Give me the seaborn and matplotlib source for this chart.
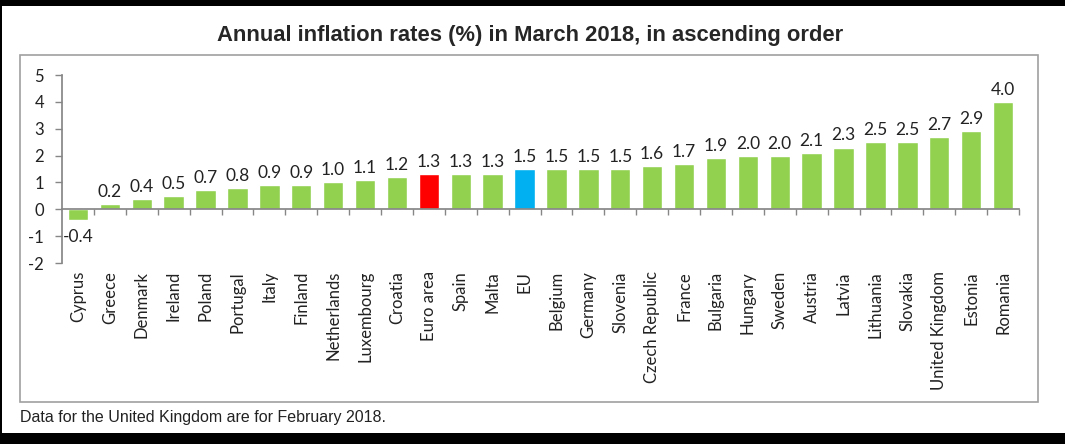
import matplotlib
matplotlib.use("Agg")
import matplotlib.pyplot as plt
import seaborn as sns
import pandas as pd
from matplotlib.patches import Rectangle

countries = ["Cyprus", "Greece", "Denmark", "Ireland", "Poland", "Portugal", "Italy",
             "Finland", "Netherlands", "Luxembourg", "Croatia", "Euro area", "Spain",
             "Malta", "EU", "Belgium", "Germany", "Slovenia", "Czech Republic", "France",
             "Bulgaria", "Hungary", "Sweden", "Austria", "Latvia", "Lithuania", "Slovakia",
             "United Kingdom", "Estonia", "Romania"]
rates = [-0.4, 0.2, 0.4, 0.5, 0.7, 0.8, 0.9, 0.9, 1.0, 1.1, 1.2, 1.3, 1.3, 1.3, 1.5,
         1.5, 1.5, 1.5, 1.6, 1.7, 1.9, 2.0, 2.0, 2.1, 2.3, 2.5, 2.5, 2.7, 2.9, 4.0]
title = "Annual inflation rates (%) in March 2018, in ascending order"
footnote = "Data for the United Kingdom are for February 2018."
yticks = [-2, -1, 0, 1, 2, 3, 4, 5]

GREEN, RED, BLUE = "#92D050", "#FF0000", "#00B0F0"
colors = [RED if c == "Euro area" else BLUE if c == "EU" else GREEN for c in countries]

sns.set_theme(style="white")
plt.rcParams["font.family"] = ["Lato", "DejaVu Sans"]

W, H = 1065, 444
fig = plt.figure(figsize=(W / 100, H / 100), dpi=100)
fig.patch.set_facecolor("white")

# axes placement (pixel coordinates from the reference)
x0, x1 = 62, 1019
ytop, ybot = 75, 263
ax = fig.add_axes([x0 / W, 1 - ybot / H, (x1 - x0) / W, (ybot - ytop) / H])

df = pd.DataFrame({"country": countries, "rate": rates})
sns.barplot(data=df, x="country", y="rate", hue="country", palette=colors,
            legend=False, width=0.64, ax=ax, saturation=1)

ax.set_xlim(-0.5, len(countries) - 0.5)
ax.set_ylim(-2, 5)
ax.set_yticks(yticks)
ax.set_yticklabels([str(v) for v in yticks], fontsize=12)
ax.set_xlabel("")
ax.set_ylabel("")

for s in ["top", "right"]:
    ax.spines[s].set_visible(False)
ax.spines["left"].set_color("#868686")
ax.spines["bottom"].set_color("#868686")
ax.spines["bottom"].set_position(("data", 0))
ax.tick_params(axis="y", left=True, direction="out", length=5, width=1, color="#868686",
               pad=8, labelcolor="#222222")
ax.set_xticks([])
# boundary ticks on the zero line
ax.set_xticks([i + 0.5 for i in range(len(countries))], minor=True)
ax.tick_params(axis="x", which="minor", bottom=True, direction="out", length=4, width=1,
               color="#868686")

# category labels below the plot
for i, c in enumerate(countries):
    ax.text(i, -2.3, c, rotation=90, ha="center", va="top", fontsize=12,
            color="#222222")

# data labels
for i, v in enumerate(rates):
    if v >= 0:
        ax.text(i, v + 0.15, f"{v:.1f}", ha="center", va="bottom", fontsize=12.5, color="#222222")
    else:
        ax.text(i, v - 0.35, f"{v:.1f}", ha="center", va="top", fontsize=12.5, color="#222222")

# outer chart border
fig.patches.append(Rectangle((20 / W, 1 - 402 / H), (1038 - 20) / W, (402 - 55) / H,
                             transform=fig.transFigure, fill=False, edgecolor="#A0A0A0",
                             linewidth=1.2))
# black frame strips
fig.patches.append(Rectangle((0, 1 - 6 / H), 1, 6 / H, transform=fig.transFigure,
                             facecolor="black", edgecolor="none"))
fig.patches.append(Rectangle((0, 0), 1, 11 / H, transform=fig.transFigure,
                             facecolor="black", edgecolor="none"))
fig.patches.append(Rectangle((0, 0), 2 / W, 1, transform=fig.transFigure,
                             facecolor="black", edgecolor="none"))

fig.text(530 / W, 1 - 35 / H, title, ha="center", va="center", fontsize=15.8,
         fontweight="bold", family=["Liberation Sans", "DejaVu Sans"])
fig.text(20 / W, 1 - 417 / H, footnote, ha="left", va="center", fontsize=11.5,
         family=["Liberation Sans", "DejaVu Sans"], color="#222222")

fig.savefig("out.png", dpi=100, facecolor="white")
